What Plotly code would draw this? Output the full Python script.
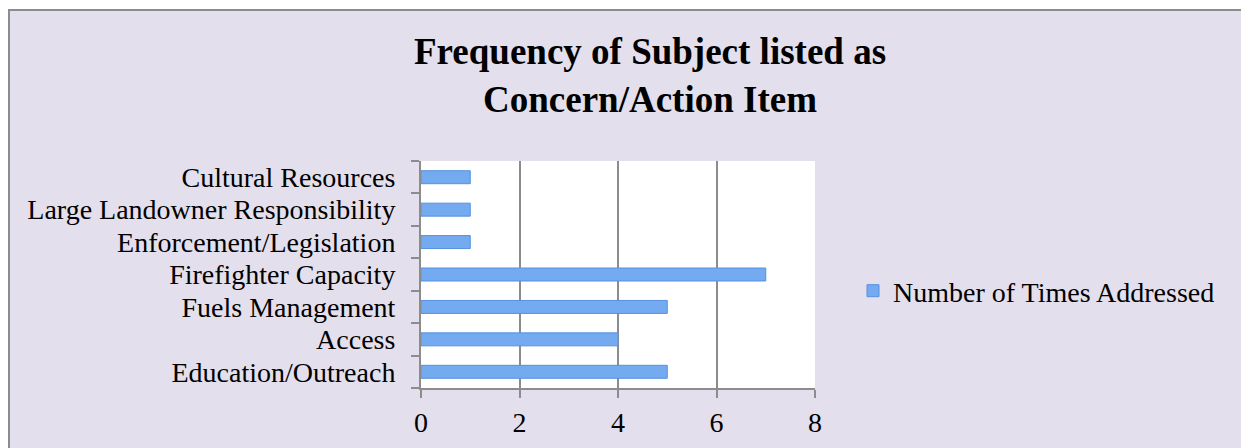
import plotly.graph_objects as go

categories = ["Cultural Resources", "Large Landowner Responsibility", "Enforcement/Legislation",
              "Firefighter Capacity", "Fuels Management", "Access", "Education/Outreach"]
values = [1, 1, 1, 7, 5, 4, 5]
series_name = "Number of Times Addressed"
x_ticks = [0, 2, 4, 6, 8]

# page is drawn with an 8px body margin, so the figure origin sits at (8, 8)
OFF = 8
W, H = 1249, 448
L, R, T, B = 421 - OFF, 815 - OFF, 161 - OFF, 388 - OFF
pw, ph = R - L, B - T

def px(x):
    return (x - OFF - L) / pw

def py(y):
    return (B - (y - OFF)) / ph

FONT = "Liberation Serif"
LAV = "#E4DFEC"
GRAY = "#8C8C8C"
FS = 28

fig = go.Figure()
fig.add_trace(go.Bar(
    y=categories[::-1], x=values[::-1], orientation="h", name=series_name,
    marker=dict(color="#74AAF0", line=dict(color="#5590E0", width=1)),
    width=0.4, showlegend=True,
))

shapes = [
    dict(type="rect", xref="paper", yref="paper", x0=px(0), x1=px(1270), y0=py(0), y1=py(9),
         fillcolor="white", line=dict(width=0), layer="above"),
    dict(type="line", xref="paper", yref="paper", x0=px(8), x1=px(1270), y0=py(10), y1=py(10),
         line=dict(color=GRAY, width=2)),
    dict(type="line", xref="paper", yref="paper", x0=px(9), x1=px(9), y0=py(9), y1=py(470),
         line=dict(color=GRAY, width=2)),
]

fig.update_layout(
    width=W, height=H,
    margin=dict(l=L, r=W - R, t=T, b=H - B, pad=0, autoexpand=False),
    paper_bgcolor=LAV, plot_bgcolor="white",
    font=dict(family=FONT, size=FS, color="black"),
    title=dict(text="<b>Frequency of Subject listed as<br>Concern/Action Item</b>",
               x=(650 - OFF) / W, xanchor="center", y=1 - (64 - OFF) / H, yanchor="middle",
               font=dict(family=FONT, size=37, color="black")),
    xaxis=dict(range=[0, 8], tickvals=x_ticks, showgrid=True, gridcolor=GRAY, gridwidth=1.5,
               zeroline=False, showline=True, linecolor=GRAY, linewidth=2, mirror=False,
               ticks="outside", ticklen=8, tickcolor=GRAY, tickwidth=2, ticklabelstandoff=0,
               tickfont=dict(family=FONT, size=FS)),
    yaxis=dict(type="category", range=[-0.5, 6.5], tickmode="linear", tick0=0, dtick=1,
               tickson="boundaries", showgrid=False,
               showline=True, linecolor=GRAY, linewidth=2, ticks="outside", ticklen=8,
               tickcolor=GRAY, tickwidth=2, ticklabelstandoff=18,
               tickfont=dict(family=FONT, size=FS)),
    legend=dict(x=px(853), xanchor="left", y=py(291), yanchor="middle",
                bgcolor="rgba(0,0,0,0)", font=dict(family=FONT, size=FS)),
    shapes=shapes,
    showlegend=True,
)

fig.write_html("out.html")
